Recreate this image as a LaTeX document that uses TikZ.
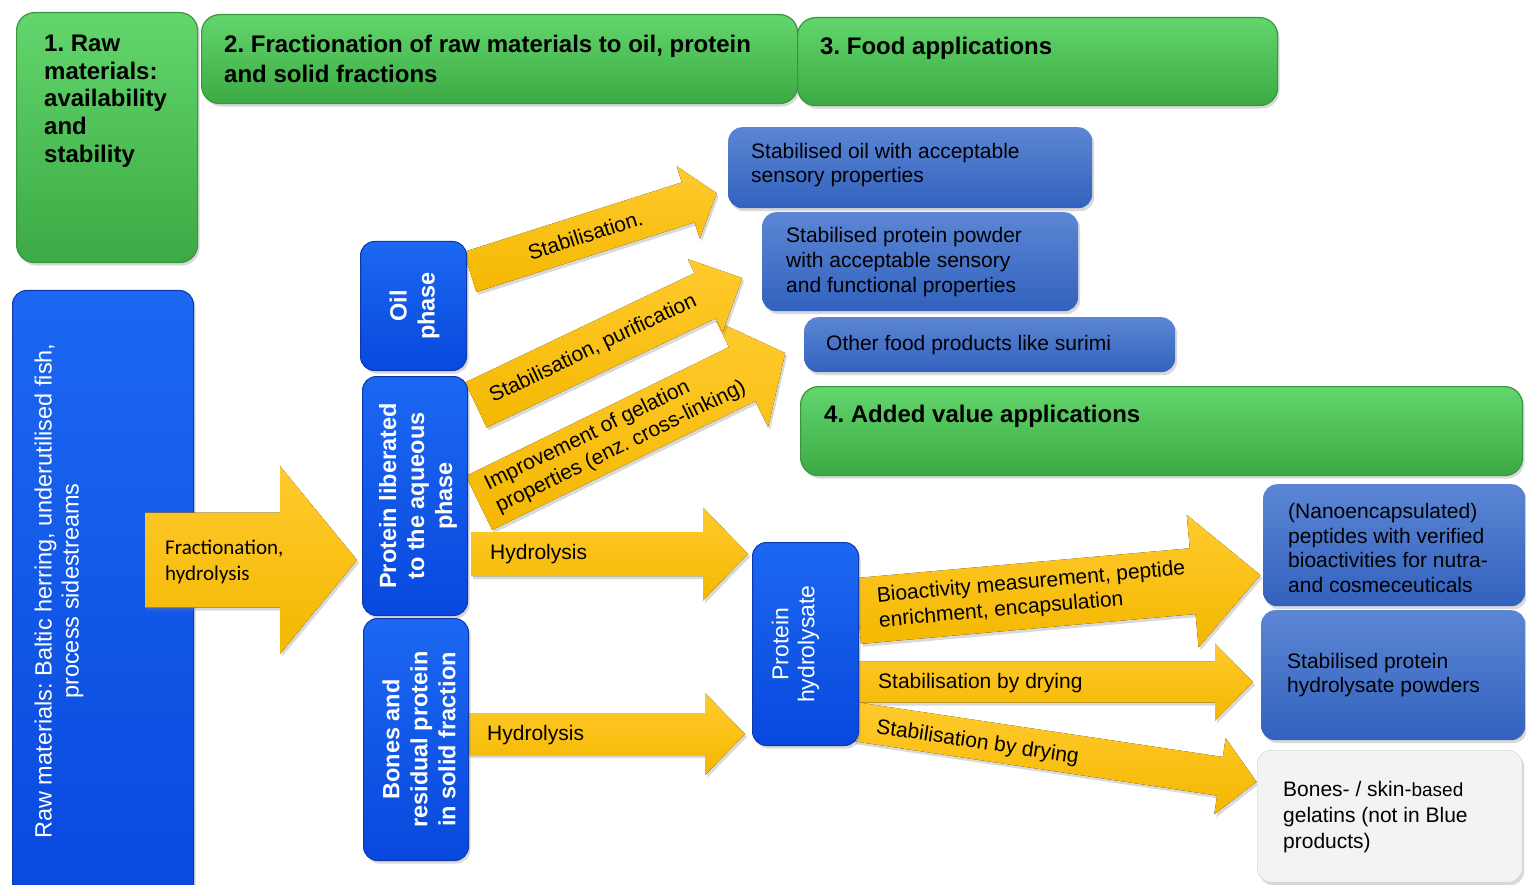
\documentclass[tikz,border=0pt]{standalone}
\usepackage{fontspec}
\setmainfont{Liberation Sans}
\newfontfamily\calibrifont{Carlito}
\usetikzlibrary{shadows,positioning}

\definecolor{hdgreentop}{RGB}{98,214,108}
\definecolor{hdgreenbot}{RGB}{60,170,68}
\definecolor{hdgreenline}{RGB}{58,150,62}
\definecolor{fracbluetop}{RGB}{28,104,242}
\definecolor{fracbluebot}{RGB}{8,72,222}
\definecolor{fracblueline}{RGB}{14,56,170}
\definecolor{prodbluetop}{RGB}{92,134,212}
\definecolor{prodbluebot}{RGB}{50,98,190}
\definecolor{arrowtop}{RGB}{255,202,46}
\definecolor{arrowbot}{RGB}{244,184,0}
\definecolor{gelgrey}{RGB}{243,243,243}

% block arrow drawn from the origin along +x: length, shaft, head width, head length
\newcommand{\fatarrow}[4]{%
  \fill[arrowbody] (0,-#2/2) -- (#1-#4,-#2/2) -- (#1-#4,-#3/2) -- (#1,0)
    -- (#1-#4,#3/2) -- (#1-#4,#2/2) -- (0,#2/2) -- cycle;}

\tikzset{
  headbox/.style={draw=hdgreenline, line width=1.2pt, top color=hdgreentop, bottom color=hdgreenbot,
    rounded corners=18pt, anchor=north west, inner sep=0pt,
    drop shadow={opacity=.3, shadow xshift=2pt, shadow yshift=-3pt}},
  headtext/.style={font=\fontsize{24}{27.7}\selectfont\bfseries, align=left, anchor=west, inner sep=0pt},
  fracbox/.style={draw=fracblueline, line width=1pt, top color=fracbluetop, bottom color=fracbluebot,
    rounded corners=14pt, anchor=north west, inner sep=0pt,
    drop shadow={opacity=.3, shadow xshift=2pt, shadow yshift=-3pt}},
  fractext/.style={text=white, font=\fontsize{23.5}{28}\selectfont\bfseries, align=center, rotate=90, inner sep=0pt},
  prodbox/.style={top color=prodbluetop, bottom color=prodbluebot, rounded corners=14pt,
    anchor=north west, inner sep=0pt,
    drop shadow={opacity=.3, shadow xshift=2pt, shadow yshift=-3pt}},
  prodtext/.style={font=\fontsize{21}{24.7}\selectfont, align=left, anchor=west, inner sep=0pt},
  arrowbody/.style={top color=arrowtop, bottom color=arrowbot,
    drop shadow={opacity=.3, shadow xshift=2pt, shadow yshift=-3pt}},
  arrowlabel/.style={font=\fontsize{21}{25}\selectfont, align=left, inner sep=0pt},
}

\begin{document}
\frenchspacing
\begin{tikzpicture}[x=1pt, y=-1pt]
\useasboundingbox (0,0) rectangle (1526,885);

% headers
\node[headbox, minimum width=181pt, minimum height=250pt] (rawhead) at (16,12) {};
\node[headtext] (rawheadtxt) at (44,101) {1. Raw\\materials:\\availability\\and\\stability};
\node[headbox, minimum width=596pt, minimum height=89pt] (frachead) at (201,14) {};
\node[headtext, font=\fontsize{24}{30}\selectfont\bfseries] (fracheadtxt) at (224,59)
  {2. Fractionation of raw materials to oil, protein\\and solid fractions};
\node[headbox, minimum width=480pt, minimum height=88pt] (foodhead) at (797,17) {};
\node[headtext] (foodheadtxt) at (820,48) {3. Food applications};
\node[headbox, minimum width=722pt, minimum height=89pt] (addhead) at (800,386) {};
\node[headtext] (addheadtxt) at (824,416) {4. Added value applications};

% raw materials
\node[fracbox, minimum width=181pt, minimum height=620pt] (rawmat) at (12,290) {};
\node[text=white, font=\fontsize{23.5}{27}\selectfont, align=center, rotate=90, inner sep=0pt]
  (rawmattxt) at (59,591) {Raw materials: Baltic herring, underutilised fish,\\process sidestreams};

\begin{scope}[shift={(145,560)}]
  \fatarrow{212}{95}{188}{77}
  \node[arrowlabel, font=\calibrifont\fontsize{21}{26}\selectfont, anchor=west] (fractlbl) at (20,2)
    {Fractionation,\\hydrolysis};
\end{scope}

% arrows out of the fractions
\begin{scope}[shift={(479,503)}, rotate=26.1]
  \fatarrow{341}{60}{118}{48}
  \node[arrowlabel, transform shape] (gellbl) at (152,0)
    {Improvement of gelation\\properties (enz. cross-linking)};
\end{scope}
\begin{scope}[shift={(476,405)}, rotate=25.5]
  \fatarrow{295}{50}{81}{41}
  \node[arrowlabel, transform shape] (purlbl) at (130,0) {Stabilisation, purification};
\end{scope}
\begin{scope}[shift={(470,272)}, rotate=17.7]
  \fatarrow{259}{42}{76}{30}
  \node[arrowlabel, transform shape] (stablbl) at (121,0) {Stabilisation.};
\end{scope}
\begin{scope}[shift={(471,554)}]
  \fatarrow{277}{44}{93}{45}
  \node[arrowlabel, anchor=west] (hyd1lbl) at (19,0) {Hydrolysis};
\end{scope}
\begin{scope}[shift={(468,734)}]
  \fatarrow{277}{42}{82}{40}
  \node[arrowlabel, anchor=west] (hyd2lbl) at (19,1) {Hydrolysis};
\end{scope}

% arrows out of the hydrolysate
\begin{scope}[shift={(858,611)}, rotate=5.1]
  \fatarrow{404}{66}{133}{68}
  \node[arrowlabel, transform shape, anchor=west] (biolbl) at (20,0)
    {Bioactivity measurement, peptide\\enrichment, encapsulation};
\end{scope}
\begin{scope}[shift={(858,682)}]
  \fatarrow{395}{41}{77}{38}
  \node[arrowlabel, anchor=west] (dry1lbl) at (20,1) {Stabilisation by drying};
\end{scope}
\begin{scope}[shift={(857,722)}, rotate=-8.5]
  \fatarrow{404}{39}{77}{37}
  \node[arrowlabel, transform shape, anchor=west] (dry2lbl) at (20,3) {Stabilisation by drying};
\end{scope}

% fractions
\node[fracbox, minimum width=106pt, minimum height=129pt] (oilph) at (360,241) {};
\node[fractext] (oilphtxt) at ([xshift=1pt]oilph.center) {Oil\\phase};
\node[fracbox, minimum width=105pt, minimum height=239pt] (protaq) at (362,376) {};
\node[fractext] (protaqtxt) at ([xshift=3pt]protaq.center) {Protein liberated\\to the aqueous\\phase};
\node[fracbox, minimum width=105pt, minimum height=242pt] (bonesol) at (363,618) {};
\node[fractext] (bonesoltxt) at ([xshift=3pt]bonesol.center) {Bones and\\residual protein\\in solid fraction};
\node[fracbox, minimum width=106pt, minimum height=203pt] (hydrol) at (752,542) {};
\node[fractext, font=\fontsize{23}{26}\selectfont] (hydroltxt) at ([xshift=-10pt]hydrol.center)
  {Protein\\hydrolysate};

% products
\node[prodbox, minimum width=364pt, minimum height=81pt] (oilprod) at (728,127) {};
\node[prodtext] (oilprodtxt) at (751,165) {Stabilised oil with acceptable\\sensory properties};
\node[prodbox, minimum width=316pt, minimum height=99pt] (powder) at (762,212) {};
\node[prodtext] (powdertxt) at (786,262)
  {Stabilised protein powder\\with acceptable sensory\\and functional properties};
\node[prodbox, minimum width=371pt, minimum height=55pt] (surimi) at (804,317) {};
\node[prodtext] (surimitxt) at (826,345) {Other food products like surimi};
\node[prodbox, minimum width=262pt, minimum height=122pt] (peptides) at (1263,484) {};
\node[prodtext] (peptidestxt) at (1288,548)
  {(Nanoencapsulated)\\peptides with verified\\bioactivities for nutra-\\and cosmeceuticals};
\node[prodbox, minimum width=264pt, minimum height=130pt] (hydpowder) at (1261,610) {};
\node[prodtext] (hydpowdertxt) at (1287,675) {Stabilised protein\\hydrolysate powders};
\node[prodbox, top color=gelgrey, bottom color=gelgrey, draw=black!20, minimum width=265pt,
  minimum height=132pt] (gelatin) at (1257,750) {};
\node[prodtext, font=\fontsize{21}{26}\selectfont] (gelatintxt) at (1283,817)
  {Bones- / skin-{\fontsize{19}{26}\selectfont based}\\gelatins (not in Blue\\products)};
\end{tikzpicture}
\end{document}
